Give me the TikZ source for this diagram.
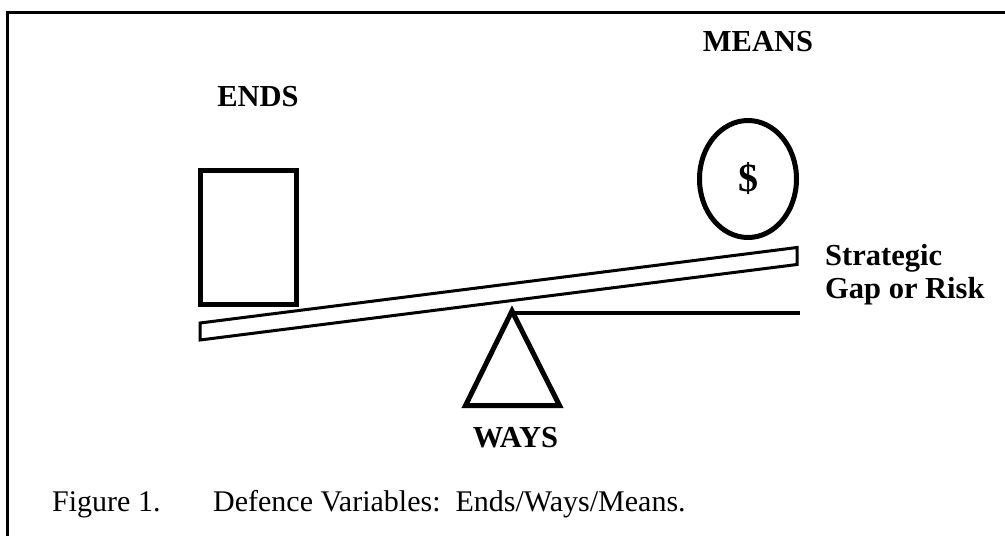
\documentclass[tikz,border=0pt]{standalone}
\usepackage{fontspec}
\setmainfont{Liberation Serif}
\usetikzlibrary{shapes.geometric}
\tikzset{
  lbl/.style={font=\fontsize{30.5}{33}\selectfont\bfseries, inner sep=0pt, align=left},
  figcap/.style={font=\fontsize{30}{33}\selectfont, inner sep=0pt, anchor=base west},
  heavy/.style={draw=black, line width=5pt, miter limit=10},
  beamline/.style={draw=black, line width=3pt, line join=miter},
}
\begin{document}
\begin{tikzpicture}[x=1pt,y=-1pt]
\useasboundingbox (0,0) rectangle (1005,536);
\begin{scope}
\clip (0,0) rectangle (1005,536);
\draw[line width=3.5pt] (7.5,560) -- (7.5,12.5) -- (1030,12.5);
\end{scope}

% ends box
\node[heavy, rectangle, minimum width=96pt, minimum height=134pt, inner sep=0pt] (endsbox) at (248,237) {};
% means coin
\node[heavy, ellipse, minimum width=97pt, minimum height=117pt, inner sep=0pt,
      font=\fontsize{40}{40}\selectfont\bfseries] (coin) at (748,179) {\$};

% beam
\coordinate (bTL) at (200,323);
\coordinate (bTR) at (797,247.5);
\coordinate (bBR) at (797,264.5);
\coordinate (bBL) at (200,340);
\draw[beamline] (bTL) -- (bTR) -- (bBR) -- (bBL) -- cycle;

% fulcrum
\coordinate (apex) at (512,311);
\coordinate (baseL) at (465.5,405.5);
\coordinate (baseR) at (559.5,405.5);
\draw[heavy, line join=miter] (apex) -- (baseL) -- (baseR) -- cycle;

% level line
\coordinate (lvlA) at (514,313);
\coordinate (lvlB) at (800,313);
\draw[line width=4pt] (lvlA) -- (lvlB);

% labels
\node[lbl, anchor=base] (ends) at (258,106) {ENDS};
\node[lbl, anchor=base] (means) at (758,51) {MEANS};
\node[lbl, anchor=base] (ways) at (515.5,447) {WAYS};
\node[lbl, anchor=base west] (gap1) at (825,265) {Strategic};
\node[lbl, anchor=base west] (gap2) at (825,298) {Gap or Risk};

% caption
\node[figcap] (fig) at (52,511) {Figure 1.};
\node[figcap] (captxt) at (213,511) {Defence Variables:\hspace{0.5em}Ends/Ways/Means.};
\end{tikzpicture}
\end{document}
